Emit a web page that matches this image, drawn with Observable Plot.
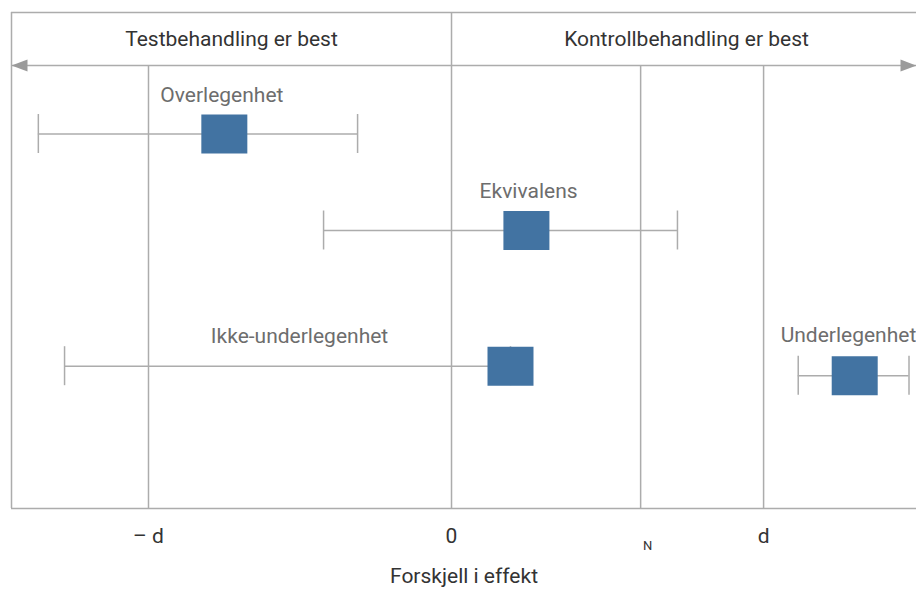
<!DOCTYPE html>
<html><head><meta charset="utf-8">
<script src="https://cdn.jsdelivr.net/npm/d3@7"></script>
<script src="https://cdn.jsdelivr.net/npm/@observablehq/plot@0.6"></script>
<style>body{margin:0;background:#fff} svg{display:block}</style>
</head><body><div id="chart"></div>
<script>
// x in units of the margin d (0 = no difference); y in row units from top (0) to bottom (10)
const xDomain = [-1.41, 1.49];
const rowNames = ["Overlegenhet", "Ekvivalens", "Ikke-underlegenhet", "Underlegenhet"];
const estimates = [-0.728, 0.240, 0.189, 1.292];
const lower = [-1.324, -0.410, -1.240, 1.111];
const upper = [-0.301, 0.724, 0.189, 1.466];
const rowY = [2.45, 4.395, 7.131, 7.325];
const labelX = [-0.736, 0.247, -0.487, 1.272];
const labelY = [1.667, 3.599, 6.528, 6.514];
const headerLabels = ["Testbehandling er best", "Kontrollbehandling er best"];
const headerX = [-0.705, 0.753];
const headerY = 0.546;
const arrowY = 1.07;
const refLines = [-0.971, 0.606, 1];
const tickValues = [-0.971, 0, 1];
const tickLabels = ["– d", "0", "d"];
const nValue = 0.606;
const nLabel = "N";
const xLabel = "Forskjell i effekt";

const rows = rowNames.map((name, i) => ({name, est: estimates[i], lo: lower[i], hi: upper[i], y: rowY[i], lx: labelX[i], ly: labelY[i]}));
const caps = rows.flatMap(r => [{x: r.lo, y: r.y}, {x: r.hi, y: r.y}]);

const gray = "#acacac";
const capHalf = 0.393;
const boxSymbol = {draw(c) { c.rect(-23, -19.5, 46, 39); }};
const leftHead = {draw(c) { c.moveTo(0, 0); c.lineTo(16, -6); c.lineTo(16, 6); c.closePath(); }};
const rightHead = {draw(c) { c.moveTo(0, 0); c.lineTo(-16, -6); c.lineTo(-16, 6); c.closePath(); }};

const chart = Plot.plot({
  width: 916, height: 594,
  marginLeft: 11, marginRight: 0, marginTop: 12, marginBottom: 86,
  x: {domain: xDomain, label: null},
  y: {domain: [0, 10], reverse: true, axis: null, label: null},
  style: {fontFamily: "Roboto, sans-serif", background: "#fff"},
  marks: [
    // frame (top, bottom, left)
    Plot.ruleY([0, 10], {stroke: gray, strokeWidth: 1.5}),
    Plot.ruleX([xDomain[0]], {stroke: gray, strokeWidth: 1.5}),
    // zero line / header divider
    Plot.ruleX([0], {y1: 0, y2: 10, stroke: gray, strokeWidth: 1.5}),
    // reference lines
    Plot.ruleX(refLines, {x: d => d, y1: arrowY, y2: 10, stroke: gray, strokeWidth: 1.5}),
    // double arrow
    Plot.ruleY([arrowY], {x1: xDomain[0], x2: xDomain[1], stroke: gray, strokeWidth: 1.5}),
    Plot.dot([xDomain[0]], {x: d => d, y: arrowY, symbol: leftHead, fill: "#9b9b9b"}),
    Plot.dot([xDomain[1]], {x: d => d, y: arrowY, symbol: rightHead, fill: "#9b9b9b"}),
    // header texts
    Plot.text(headerLabels, {x: (d, i) => headerX[i], y: headerY, text: d => d, fontSize: 21, fill: "#333333"}),
    // whiskers
    Plot.ruleY(rows, {y: "y", x1: "lo", x2: "hi", stroke: gray, strokeWidth: 1.5}),
    Plot.ruleX(caps, {x: "x", y1: d => d.y - capHalf, y2: d => d.y + capHalf, stroke: gray, strokeWidth: 1.5}),
    // estimates
    Plot.dot(rows, {x: "est", y: "y", symbol: boxSymbol, fill: "#4273a2"}),
    // row labels
    Plot.text(rows, {x: "lx", y: "ly", text: "name", fontSize: 21, fill: "#6d6d6d"}),
    // axis
    Plot.axisX({ticks: tickValues, tickFormat: d => tickLabels[tickValues.indexOf(d)], tickSize: 0, tickPadding: 20, fontSize: 21, fill: "#333333", label: null}),
    Plot.axisX({ticks: [nValue], tickFormat: () => nLabel, tickSize: 0, tickPadding: 32, fontSize: 13, dx: 7, fill: "#333333", label: null}),
    Plot.text([xLabel], {frameAnchor: "bottom", dy: 74.5, text: d => d, fontSize: 21, fill: "#333333"})
  ]
});
document.getElementById("chart").append(chart);
</script>
</body></html>
